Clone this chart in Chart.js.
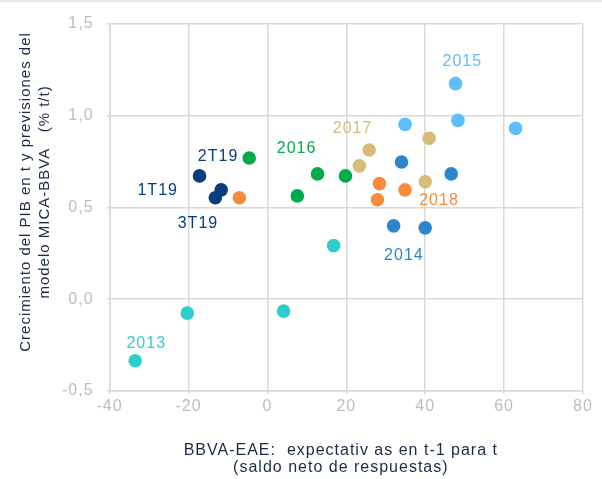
<!DOCTYPE html>
<html>
<head>
<meta charset="utf-8">
<script src="https://cdn.jsdelivr.net/npm/chart.js@4"></script>
<style>
    html, body { margin: 0; padding: 0; background: #fff; }
    #wrap { width: 602px; height: 479px; position: relative; }
    #topline { position: absolute; left: 0; top: 0; width: 602px; height: 2px; background: #e8e8e8; }
</style>
</head>
<body>
<div id="wrap"><canvas id="chart"></canvas><div id="topline"></div></div>
<script>
// ---------- DATA ----------
const years = ['2013', '2014', '2015', '2016', '2017', '2018', '2019'];

const x2013 = [-33.5, -20.3, 4.1, 16.8];
const y2013 = [-0.335, -0.076, -0.065, 0.292];

const x2014 = [34.0, 46.6, 32.0, 40.0];
const y2014 = [0.748, 0.683, 0.400, 0.389];

const x2015 = [47.7, 48.3, 34.9, 62.9];
const y2015 = [1.175, 0.975, 0.953, 0.931];

const x2016 = [-4.6, 12.7, 19.8, 7.6];
const y2016 = [0.770, 0.683, 0.672, 0.563];

const x2017 = [41.0, 25.8, 23.3, 40.0];
const y2017 = [0.877, 0.813, 0.727, 0.640];

const x2018 = [28.4, 34.9, 27.9, -7.1];
const y2018 = [0.630, 0.596, 0.542, 0.553];

const x2019 = [-17.2, -11.7, -13.2];
const y2019 = [0.672, 0.596, 0.553];

// text labels placed in data coordinates
const labelText = ['2013', '2014', '2015', '2016', '2017', '2018', '2T19', '1T19', '3T19'];
const labelX = [-30.7, 34.6, 49.4, 7.4, 21.6, 43.5, -12.5, -27.8, -17.6];
const labelY = [-0.24, 0.24, 1.293, 0.82, 0.93, 0.535, 0.778, 0.592, 0.413];

const xTicks = [-40, 80, 20];
const yTicks = [-0.5, 1.5, 0.5];

// ---------- STYLES ----------
const COLORS = {
    '2013': '#2ECECE',
    '2014': '#2B86CD',
    '2015': '#5CBEFF',
    '2016': '#00AB4E',
    '2017': '#D6BC76',
    '2018': '#F68C3B',
    '2019': '#063E7F',
    '2T19': '#063E7F',
    '1T19': '#063E7F',
    '3T19': '#063E7F'
};
const FONT = 'Liberation Sans, Arial, sans-serif';

const seriesX = [x2013, x2014, x2015, x2016, x2017, x2018, x2019];
const seriesY = [y2013, y2014, y2015, y2016, y2017, y2018, y2019];

const datasets = years.map((yr, i) => ({
    label: yr,
    data: seriesX[i].map((x, j) => ({ x, y: seriesY[i][j] })),
    backgroundColor: COLORS[yr],
    borderColor: COLORS[yr],
    borderWidth: 0,
    pointRadius: 6.8,
    pointHoverRadius: 6.8
}));

// ---------- PLUGINS ----------
// the original text is set slightly spread out
const spacing = {
    id: 'spacing',
    beforeLayout(chart) { chart.ctx.letterSpacing = '1px'; },
    beforeDraw(chart) { chart.ctx.letterSpacing = '1px'; }
};

const pointLabels = {
    id: 'pointLabels',
    afterDatasetsDraw(chart) {
        const { ctx, scales: { x, y } } = chart;
        ctx.save();
        ctx.font = '16px ' + FONT;
        ctx.textAlign = 'center';
        ctx.textBaseline = 'middle';
        labelText.forEach((t, i) => {
            ctx.fillStyle = COLORS[t];
            ctx.fillText(t, x.getPixelForValue(labelX[i]), y.getPixelForValue(labelY[i]));
        });
        ctx.restore();
    }
};

new Chart(document.getElementById('chart'), {
    type: 'scatter',
    data: { datasets },
    options: {
        responsive: true,
        maintainAspectRatio: false,
        animation: false,
        layout: { padding: { top: 24, right: 19, left: 16, bottom: 2 } },
        plugins: {
            legend: { display: false },
            tooltip: { enabled: false }
        },
        scales: {
            x: {
                min: xTicks[0], max: xTicks[1],
                ticks: {
                    stepSize: xTicks[2],
                    color: '#bdbdbd',
                    font: { family: FONT, size: 16 },
                    padding: 3
                },
                grid: { color: '#d9d9d9', lineWidth: 1.5, tickLength: 3 },
                border: { color: '#d9d9d9', width: 1.5 },
                title: {
                    display: true,
                    text: ['BBVA-EAE:  expectativ as en t-1 para t  ', '(saldo neto de respuestas)  '],
                    color: '#1b2a47',
                    font: { family: FONT, size: 16, lineHeight: 1.12 },
                    padding: { top: 22, bottom: 0 }
                }
            },
            y: {
                min: yTicks[0], max: yTicks[1],
                ticks: {
                    stepSize: yTicks[2],
                    color: '#bdbdbd',
                    font: { family: FONT, size: 16 },
                    padding: 13,
                    callback: v => v.toFixed(1).replace('.', ',')
                },
                grid: { color: '#d9d9d9', lineWidth: 1.5, tickLength: 3 },
                border: { color: '#d9d9d9', width: 1.5 },
                title: {
                    display: true,
                    text: ['      Crecimiento del PIB en t y previsiones del', '      modelo MICA-BBVA   (% t/t)'],
                    color: '#1b2a47',
                    font: { family: FONT, size: 15, lineHeight: 1.3 },
                    padding: { top: 0, bottom: -6 }
                }
            }
        }
    },
    plugins: [spacing, pointLabels]
});
</script>
</body>
</html>
